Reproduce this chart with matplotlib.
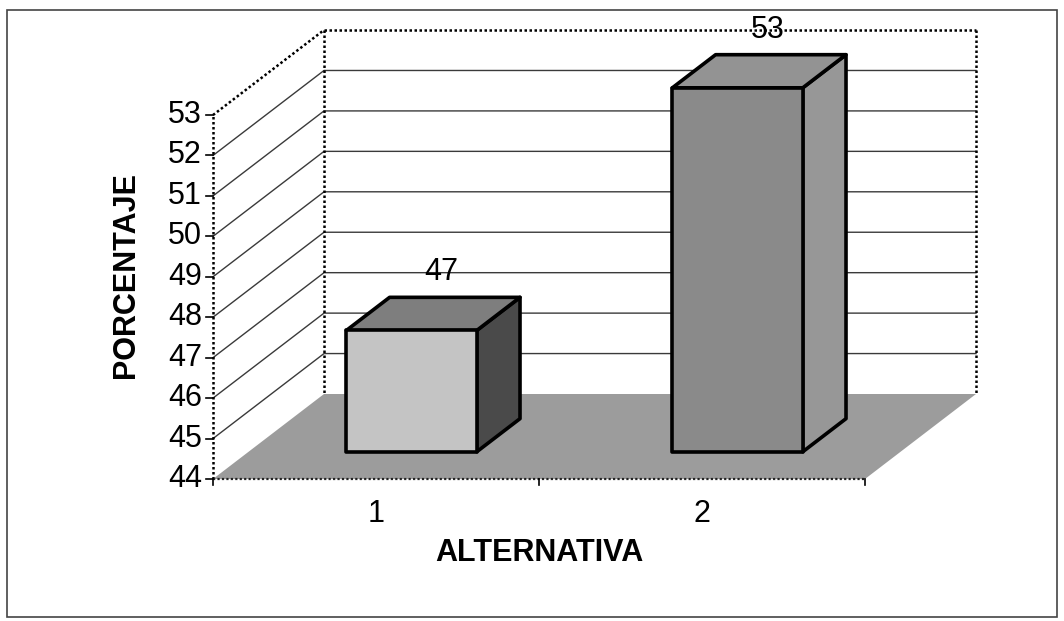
import matplotlib
matplotlib.use("Agg")
import matplotlib.pyplot as plt
from matplotlib.patches import Polygon, Rectangle

# ---- data ----
categories = ["1", "2"]
values = [47, 53]
value_labels = ["47", "53"]
y_ticks = list(range(44, 54))
y_min, y_max = 44, 53
x_title = "ALTERNATIVA"
y_title = "PORCENTAJE"

plt.rcParams['font.family'] = ['Liberation Sans', 'DejaVu Sans']
FS = 22

W, H = 1064, 621
fig = plt.figure(figsize=(W / 100, H / 100), dpi=100)
ax = fig.add_axes([0, 0, 1, 1])
ax.axis('off')

# layout (pixel geometry of the pseudo-3D frame)
ORIGIN_X, ORIGIN_Y = 213, 479   # front-left-bottom corner (pixels from top-left)
CAT_PX = 326                    # pixels per category
UNIT_PX = 40.44                 # pixels per value unit
ax.set_xlim(-ORIGIN_X / CAT_PX, (W - ORIGIN_X) / CAT_PX)
ax.set_ylim(y_min - (H - ORIGIN_Y) / UNIT_PX, y_min + ORIGIN_Y / UNIT_PX)
DX = 111 / CAT_PX
DY = 85 / UNIT_PX
n = len(categories)


def P(x, v, d):
    return (x + d * DX, v + d * DY)


def px_x(p):
    return p / CAT_PX


def px_y(p):
    return p / UNIT_PX


dotted = dict(color='black', lw=1.8, linestyle=(0, (1, 1)), zorder=3)

# left wall and back wall (white)
ax.add_patch(Polygon([P(0, y_min, 0), P(0, y_max, 0), P(0, y_max, 1), P(0, y_min, 1)],
                     closed=True, facecolor='white', edgecolor='none', zorder=1))
ax.add_patch(Polygon([P(0, y_min, 1), P(n, y_min, 1), P(n, y_max, 1), P(0, y_max, 1)],
                     closed=True, facecolor='white', edgecolor='none', zorder=1))

# gridlines
for v in y_ticks[1:-1]:
    a, b, c = P(0, v, 0), P(0, v, 1), P(n, v, 1)
    ax.plot([a[0], b[0], c[0]], [a[1], b[1], c[1]], color='#3a3a3a', lw=1.0, zorder=2)

# frame edges (dotted)
edges = [
    (P(0, y_min, 0), P(0, y_max, 0)),
    (P(0, y_max, 0), P(0, y_max, 1)),
    (P(0, y_max, 1), P(0, y_min, 1)),
    (P(0, y_max, 1), P(n, y_max, 1)),
    (P(n, y_max, 1), P(n, y_min, 1)),
]
for a, b in edges:
    ax.plot([a[0], b[0]], [a[1], b[1]], **dotted)

# floor
ax.add_patch(Polygon([P(0, y_min, 0), P(n, y_min, 0), P(n, y_min, 1), P(0, y_min, 1)],
                     closed=True, facecolor='#9c9c9c', edgecolor='none', zorder=4))
a, b = P(0, y_min, 0), P(n, y_min, 0)
ax.plot([a[0], b[0]], [a[1], b[1]], color='#222222', lw=1.6, linestyle=(0, (1, 1)), zorder=5)

# y ticks and labels
for v in y_ticks:
    ax.plot([-px_x(7), 0], [v, v], color='black', lw=1.2, zorder=5)
    ax.text(-px_x(11), v, str(v), ha='right', va='center', fontsize=FS, zorder=6)

# category ticks and labels
for i in range(n + 1):
    ax.plot([i, i], [y_min, y_min - px_y(6)], color='black', lw=1.2, zorder=5)
for i, lab in enumerate(categories):
    ax.text(i + 0.5, y_min - px_y(35), lab, ha='center', va='center', fontsize=FS, zorder=6)

# axis titles
ax.text(n / 2, y_min - px_y(74), x_title, ha='center', va='center',
        fontsize=FS, fontweight='bold', zorder=6)
ax.text(-px_x(87), y_min + px_y(204), y_title, ha='center', va='center',
        fontsize=FS, fontweight='bold', rotation=90, zorder=6)

# bars
half_w = 0.2
d0, d1 = 0.32, 0.71
face_colors = [('#c4c4c4', '#7e7e7e', '#4a4a4a'),
               ('#8a8a8a', '#939393', '#979797')]
for i, (v, lab) in enumerate(zip(values, value_labels)):
    c = i + 0.5
    front, top, side = face_colors[i]
    zb = 10 + i * 3
    ax.add_patch(Polygon([P(c + half_w, y_min, d0), P(c + half_w, y_min, d1),
                          P(c + half_w, v, d1), P(c + half_w, v, d0)],
                         closed=True, facecolor=side, edgecolor='black', lw=2.6,
                         joinstyle='round', zorder=zb))
    ax.add_patch(Polygon([P(c - half_w, v, d0), P(c + half_w, v, d0),
                          P(c + half_w, v, d1), P(c - half_w, v, d1)],
                         closed=True, facecolor=top, edgecolor='black', lw=2.6,
                         joinstyle='round', zorder=zb + 1))
    ax.add_patch(Polygon([P(c - half_w, y_min, d0), P(c + half_w, y_min, d0),
                          P(c + half_w, v, d0), P(c - half_w, v, d0)],
                         closed=True, facecolor=front, edgecolor='black', lw=2.6,
                         joinstyle='round', zorder=zb + 2))
    lx, ly = P(c, v + 0.87, 0.59)
    ax.text(lx, ly, lab, ha='center', va='center', fontsize=FS, zorder=20)

# outer chart border
fig.patches.append(Rectangle((7 / W, (H - 617) / H), 1050 / W, 607 / H,
                             transform=fig.transFigure, fill=False,
                             edgecolor='#444444', lw=1.2))

fig.savefig('out.png', dpi=100)
